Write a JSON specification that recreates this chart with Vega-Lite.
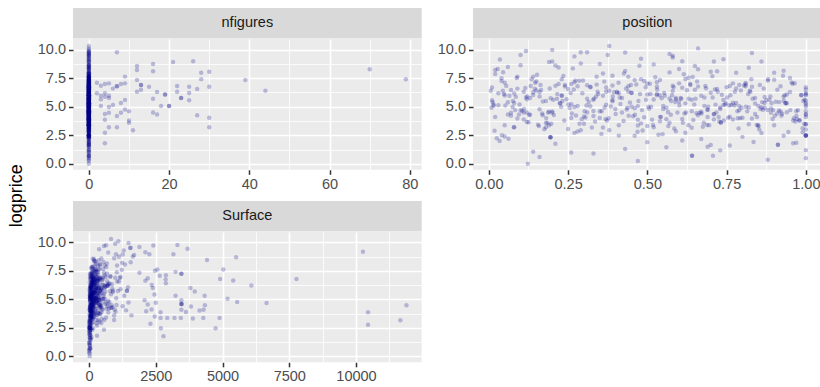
{
  "$schema": "https://vega.github.io/schema/vega-lite/v6.json",
  "background": "#FFFFFF",
  "padding": {"left": 8, "top": 8, "right": 0, "bottom": 0},
  "title": {"text": "logprice", "orient": "left", "anchor": "middle", "fontSize": 18, "fontWeight": "normal", "color": "#000000", "offset": 11},
  "data": {"values": [
    {"lp":9.76,"nf":7,"pos":0.31,"sf":640},{"lp":7.1,"nf":2,"pos":0.05,"sf":220},{"lp":6.84,"nf":3,"pos":0.58,"sf":410},{"lp":6.98,"nf":4,"pos":0.22,"sf":1180},
    {"lp":7.04,"nf":5,"pos":0.77,"sf":95},{"lp":6.17,"nf":2,"pos":0.41,"sf":330},{"lp":5.96,"nf":3,"pos":0.67,"sf":870},{"lp":5.64,"nf":3,"pos":0.12,"sf":150},
    {"lp":5.87,"nf":4,"pos":0.93,"sf":480},{"lp":5.96,"nf":5,"pos":0.36,"sf":260},{"lp":5.76,"nf":5,"pos":0.84,"sf":1420},{"lp":6.17,"nf":4,"pos":0.03,"sf":75},
    {"lp":5.06,"nf":3,"pos":0.55,"sf":590},{"lp":4.97,"nf":5,"pos":0.27,"sf":360},{"lp":4.36,"nf":4,"pos":0.71,"sf":180},{"lp":3.86,"nf":4,"pos":0.47,"sf":720},
    {"lp":4.47,"nf":5,"pos":0.89,"sf":130},{"lp":3.2,"nf":5,"pos":0.18,"sf":940},{"lp":2.72,"nf":4,"pos":0.62,"sf":55},{"lp":1.81,"nf":4,"pos":0.96,"sf":300},
    {"lp":6.58,"nf":6,"pos":0.09,"sf":1050},{"lp":6.78,"nf":7,"pos":0.44,"sf":240},{"lp":6.78,"nf":7,"pos":0.81,"sf":510},{"lp":6.98,"nf":8,"pos":0.26,"sf":170},
    {"lp":7.04,"nf":9,"pos":0.6,"sf":800},{"lp":7.63,"nf":9,"pos":0.14,"sf":390},{"lp":5.14,"nf":6,"pos":0.74,"sf":110},{"lp":4.18,"nf":7,"pos":0.33,"sf":660},
    {"lp":3.2,"nf":7,"pos":0.52,"sf":280},{"lp":5.32,"nf":8,"pos":0.87,"sf":1320},{"lp":4.47,"nf":8,"pos":0.07,"sf":430},{"lp":5.58,"nf":9,"pos":0.39,"sf":205},
    {"lp":4.76,"nf":9,"pos":0.69,"sf":760},{"lp":4.59,"nf":10,"pos":0.2,"sf":90},{"lp":3.8,"nf":10,"pos":0.98,"sf":350},{"lp":3.6,"nf":10,"pos":0.57,"sf":1590},
    {"lp":2.93,"nf":11,"pos":0.29,"sf":460},{"lp":8.56,"nf":12,"pos":0.65,"sf":190},{"lp":8.21,"nf":12,"pos":0.02,"sf":1240},{"lp":7.34,"nf":12,"pos":0.46,"sf":560},
    {"lp":6.9,"nf":13,"pos":0.79,"sf":140},{"lp":6.9,"nf":13,"pos":0.24,"sf":980},{"lp":6.49,"nf":13,"pos":0.91,"sf":320},{"lp":6.31,"nf":12,"pos":0.11,"sf":700},
    {"lp":6.75,"nf":15,"pos":0.53,"sf":245},{"lp":8.74,"nf":16,"pos":0.35,"sf":1120},{"lp":8.09,"nf":16,"pos":0.72,"sf":420},{"lp":6.28,"nf":17,"pos":0.16,"sf":85},
    {"lp":5.7,"nf":16,"pos":0.63,"sf":610},{"lp":5.06,"nf":18,"pos":0.85,"sf":270},{"lp":4.5,"nf":16,"pos":0.42,"sf":850},{"lp":4.32,"nf":17,"pos":0.06,"sf":160},
    {"lp":6.07,"nf":19,"pos":0.5,"sf":380},{"lp":6.07,"nf":19,"pos":0.94,"sf":1460},{"lp":5.06,"nf":20,"pos":0.28,"sf":230},{"lp":5.06,"nf":20,"pos":0.68,"sf":540},
    {"lp":8.9,"nf":21,"pos":0.19,"sf":1690},{"lp":6.8,"nf":22,"pos":0.76,"sf":310},{"lp":6.31,"nf":22,"pos":0.37,"sf":125},{"lp":5.76,"nf":23,"pos":0.59,"sf":900},
    {"lp":5.76,"nf":23,"pos":0.13,"sf":445},{"lp":6.75,"nf":25,"pos":0.83,"sf":210},{"lp":6.2,"nf":25,"pos":0.45,"sf":680},{"lp":5.56,"nf":25,"pos":0.01,"sf":340},
    {"lp":8.97,"nf":26,"pos":0.61,"sf":1010},{"lp":6.55,"nf":27,"pos":0.25,"sf":175},{"lp":7.97,"nf":28,"pos":0.9,"sf":590},{"lp":7.41,"nf":28,"pos":0.48,"sf":265},
    {"lp":4.26,"nf":27,"pos":0.17,"sf":820},{"lp":8.06,"nf":30,"pos":0.7,"sf":1350},{"lp":6.75,"nf":30,"pos":0.32,"sf":395},{"lp":4.03,"nf":30,"pos":0.8,"sf":115},
    {"lp":3.2,"nf":30,"pos":0.08,"sf":575},{"lp":7.34,"nf":39,"pos":0.54,"sf":1890},{"lp":6.4,"nf":44,"pos":0.38,"sf":730},{"lp":8.27,"nf":70,"pos":0.66,"sf":1560},
    {"lp":7.39,"nf":79,"pos":0.23,"sf":1040},
    {"lp":9.74,"nf":0,"pos":0.43,"sf":2410},{"lp":9.77,"nf":0,"pos":0.29,"sf":3310},{"lp":9.45,"nf":0,"pos":0.58,"sf":3690},{"lp":8.96,"nf":0,"pos":0.86,"sf":3160},
    {"lp":8.47,"nf":0,"pos":0.06,"sf":4420},{"lp":8.7,"nf":0,"pos":0.52,"sf":5510},{"lp":8.96,"nf":0,"pos":0.2,"sf":2260},{"lp":9.15,"nf":0,"pos":0.74,"sf":2110},
    {"lp":9.61,"nf":0,"pos":0.57,"sf":1890},{"lp":9.52,"nf":0,"pos":0.1,"sf":1540},{"lp":7.51,"nf":0,"pos":0.95,"sf":2470},{"lp":7.62,"nf":0,"pos":0.34,"sf":2560},
    {"lp":7.42,"nf":0,"pos":0.62,"sf":3240},{"lp":7.25,"nf":0,"pos":0.04,"sf":3460},{"lp":7.25,"nf":0,"pos":0.49,"sf":3460},{"lp":7.08,"nf":0,"pos":0.81,"sf":2650},
    {"lp":7.13,"nf":0,"pos":0.27,"sf":2880},{"lp":6.76,"nf":0,"pos":0.66,"sf":2870},{"lp":6.41,"nf":0,"pos":0.15,"sf":2880},{"lp":7.62,"nf":0,"pos":0.44,"sf":5030},
    {"lp":6.79,"nf":0,"pos":0.92,"sf":4910},{"lp":6.67,"nf":0,"pos":0.37,"sf":5400},{"lp":6.22,"nf":0,"pos":0.7,"sf":6080},{"lp":6.0,"nf":0,"pos":0.23,"sf":2390},
    {"lp":5.43,"nf":0,"pos":0.6,"sf":2450},{"lp":4.71,"nf":0,"pos":0.88,"sf":2500},{"lp":5.32,"nf":0,"pos":0.08,"sf":3240},{"lp":6.0,"nf":0,"pos":0.53,"sf":3800},
    {"lp":5.7,"nf":0,"pos":0.31,"sf":3960},{"lp":5.32,"nf":0,"pos":0.78,"sf":4330},{"lp":5.05,"nf":0,"pos":0.47,"sf":5190},{"lp":4.78,"nf":0,"pos":0.16,"sf":5550},
    {"lp":4.6,"nf":0,"pos":0.64,"sf":3460},{"lp":4.6,"nf":0,"pos":0.97,"sf":3460},{"lp":4.6,"nf":0,"pos":0.35,"sf":3470},{"lp":4.92,"nf":0,"pos":0.73,"sf":3460},
    {"lp":4.09,"nf":0,"pos":0.02,"sf":3460},{"lp":3.9,"nf":0,"pos":0.56,"sf":3630},{"lp":4.37,"nf":0,"pos":0.84,"sf":3820},{"lp":4.02,"nf":0,"pos":0.26,"sf":4140},
    {"lp":4.09,"nf":0,"pos":0.69,"sf":4290},{"lp":4.49,"nf":0,"pos":0.12,"sf":4340},{"lp":3.32,"nf":0,"pos":0.5,"sf":3890},{"lp":3.38,"nf":0,"pos":0.9,"sf":4280},
    {"lp":3.38,"nf":0,"pos":0.41,"sf":4890},{"lp":3.38,"nf":0,"pos":0.19,"sf":3200},{"lp":3.38,"nf":0,"pos":0.63,"sf":3440},{"lp":3.38,"nf":0,"pos":0.85,"sf":2930},
    {"lp":3.38,"nf":0,"pos":0.05,"sf":2680},{"lp":2.46,"nf":0,"pos":0.46,"sf":4740},{"lp":3.87,"nf":0,"pos":0.77,"sf":2680},{"lp":3.5,"nf":0,"pos":0.3,"sf":2460},
    {"lp":2.86,"nf":0,"pos":0.59,"sf":2300},{"lp":2.46,"nf":0,"pos":0.93,"sf":2690},{"lp":1.76,"nf":0,"pos":0.21,"sf":2790},{"lp":4.55,"nf":0,"pos":0.67,"sf":2200},
    {"lp":3.96,"nf":0,"pos":0.09,"sf":2140},{"lp":4.11,"nf":0,"pos":0.54,"sf":2340},{"lp":4.92,"nf":0,"pos":0.82,"sf":2080},{"lp":6.85,"nf":0,"pos":0.39,"sf":2200},
    {"lp":6.27,"nf":0,"pos":0.14,"sf":2350},{"lp":6.65,"nf":0,"pos":0.61,"sf":2110},{"lp":4.68,"nf":0,"pos":0.79,"sf":6650},{"lp":6.79,"nf":0,"pos":0.28,"sf":7770},
    {"lp":9.19,"nf":0,"pos":0.48,"sf":10260},{"lp":3.87,"nf":0,"pos":0.71,"sf":10450},{"lp":2.77,"nf":0,"pos":0.99,"sf":10450},{"lp":3.18,"nf":0,"pos":0.36,"sf":11660},
    {"lp":4.48,"nf":0,"pos":0.11,"sf":11890},
    {"lp":2.33,"nf":0,"pos":0.194,"sf":120},{"lp":2.33,"nf":0,"pos":0.194,"sf":45},{"lp":2.33,"nf":0,"pos":0.195,"sf":560},{"lp":3.62,"nf":0,"pos":0.732,"sf":80},
    {"lp":3.62,"nf":0,"pos":0.732,"sf":310},{"lp":0.7,"nf":0,"pos":0.641,"sf":40},{"lp":0.7,"nf":0,"pos":0.641,"sf":20},{"lp":2.48,"nf":0,"pos":1,"sf":60},
    {"lp":2.48,"nf":0,"pos":1,"sf":30},{"lp":2.48,"nf":0,"pos":1,"sf":150},{"lp":2.48,"nf":0,"pos":1,"sf":10},{"lp":3.47,"nf":0,"pos":1,"sf":200},
    {"lp":3.47,"nf":0,"pos":1,"sf":70},{"lp":1.67,"nf":0,"pos":0.912,"sf":35},{"lp":1.67,"nf":0,"pos":0.912,"sf":90},{"lp":0.7,"nf":0,"pos":0.707,"sf":50},
    {"lp":0.0,"nf":0,"pos":0.123,"sf":25},{"lp":9.88,"nf":0,"pos":0.117,"sf":980},
    {"lp":5.12,"nf":0,"pos":0.03,"sf":210},{"lp":6.45,"nf":0,"pos":0.07,"sf":85},{"lp":3.88,"nf":0,"pos":0.11,"sf":460},{"lp":7.21,"nf":0,"pos":0.15,"sf":130},
    {"lp":4.56,"nf":0,"pos":0.19,"sf":720},{"lp":5.93,"nf":0,"pos":0.23,"sf":40},{"lp":2.71,"nf":0,"pos":0.27,"sf":300},{"lp":6.88,"nf":0,"pos":0.31,"sf":1150},
    {"lp":4.02,"nf":0,"pos":0.35,"sf":95},{"lp":5.47,"nf":0,"pos":0.39,"sf":380},{"lp":8.13,"nf":0,"pos":0.43,"sf":260},{"lp":3.35,"nf":0,"pos":0.47,"sf":55},
    {"lp":6.12,"nf":0,"pos":0.51,"sf":610},{"lp":4.79,"nf":0,"pos":0.55,"sf":170},{"lp":5.66,"nf":0,"pos":0.59,"sf":890},{"lp":7.54,"nf":0,"pos":0.63,"sf":240},
    {"lp":2.18,"nf":0,"pos":0.67,"sf":30},{"lp":4.33,"nf":0,"pos":0.71,"sf":410},{"lp":6.71,"nf":0,"pos":0.75,"sf":150},{"lp":5.05,"nf":0,"pos":0.79,"sf":530},
    {"lp":3.97,"nf":0,"pos":0.83,"sf":70},{"lp":5.84,"nf":0,"pos":0.87,"sf":330},{"lp":4.41,"nf":0,"pos":0.91,"sf":1260},{"lp":6.29,"nf":0,"pos":0.95,"sf":190},
    {"lp":3.12,"nf":0,"pos":0.99,"sf":15},{"lp":7.85,"nf":0,"pos":0.02,"sf":650},{"lp":5.38,"nf":0,"pos":0.06,"sf":120},{"lp":4.68,"nf":0,"pos":0.1,"sf":280},
    {"lp":6.02,"nf":0,"pos":0.14,"sf":75},{"lp":3.59,"nf":0,"pos":0.18,"sf":940},{"lp":8.42,"nf":0,"pos":0.22,"sf":360},{"lp":5.21,"nf":0,"pos":0.26,"sf":45},
    {"lp":4.14,"nf":0,"pos":0.3,"sf":220},{"lp":6.93,"nf":0,"pos":0.34,"sf":510},{"lp":2.95,"nf":0,"pos":0.38,"sf":100},{"lp":5.76,"nf":0,"pos":0.42,"sf":1420},
    {"lp":4.87,"nf":0,"pos":0.46,"sf":160},{"lp":7.02,"nf":0,"pos":0.5,"sf":290},{"lp":3.73,"nf":0,"pos":0.54,"sf":60},{"lp":6.38,"nf":0,"pos":0.58,"sf":770},
    {"lp":5.29,"nf":0,"pos":0.62,"sf":135},{"lp":4.25,"nf":0,"pos":0.66,"sf":430},{"lp":1.64,"nf":0,"pos":0.7,"sf":25},{"lp":5.58,"nf":0,"pos":0.74,"sf":250},
    {"lp":6.59,"nf":0,"pos":0.78,"sf":680},{"lp":3.46,"nf":0,"pos":0.82,"sf":110},{"lp":4.95,"nf":0,"pos":0.86,"sf":370},{"lp":7.36,"nf":0,"pos":0.9,"sf":90},
    {"lp":4.52,"nf":0,"pos":0.94,"sf":1030},{"lp":3.81,"nf":0,"pos":0.98,"sf":200},{"lp":6.67,"nf":0,"pos":0.01,"sf":310},{"lp":5.98,"nf":0,"pos":0.05,"sf":560},
    {"lp":7.63,"nf":0,"pos":0.09,"sf":145},{"lp":4.29,"nf":0,"pos":0.13,"sf":35},{"lp":5.45,"nf":0,"pos":0.17,"sf":820},{"lp":6.84,"nf":0,"pos":0.21,"sf":175},
    {"lp":3.04,"nf":0,"pos":0.25,"sf":400},{"lp":8.77,"nf":0,"pos":0.29,"sf":1640},{"lp":4.62,"nf":0,"pos":0.33,"sf":65},{"lp":5.16,"nf":0,"pos":0.37,"sf":275},
    {"lp":2.47,"nf":0,"pos":0.41,"sf":20},{"lp":6.21,"nf":0,"pos":0.45,"sf":590},{"lp":4.08,"nf":0,"pos":0.49,"sf":125},{"lp":7.14,"nf":0,"pos":0.53,"sf":345},
    {"lp":5.71,"nf":0,"pos":0.57,"sf":80},{"lp":3.92,"nf":0,"pos":0.61,"sf":990},{"lp":6.49,"nf":0,"pos":0.65,"sf":215},{"lp":4.71,"nf":0,"pos":0.69,"sf":455},
    {"lp":1.18,"nf":0,"pos":0.73,"sf":10},{"lp":5.34,"nf":0,"pos":0.77,"sf":185},{"lp":6.96,"nf":0,"pos":0.81,"sf":630},{"lp":3.28,"nf":0,"pos":0.85,"sf":140},
    {"lp":4.84,"nf":0,"pos":0.89,"sf":265},{"lp":5.52,"nf":0,"pos":0.93,"sf":50},{"lp":4.19,"nf":0,"pos":0.97,"sf":740},{"lp":7.48,"nf":0,"pos":0.04,"sf":230},
    {"lp":6.15,"nf":0,"pos":0.08,"sf":390},{"lp":3.67,"nf":0,"pos":0.12,"sf":105},{"lp":5.89,"nf":0,"pos":0.16,"sf":1180},{"lp":4.46,"nf":0,"pos":0.2,"sf":60},
    {"lp":6.76,"nf":0,"pos":0.24,"sf":320},{"lp":2.83,"nf":0,"pos":0.28,"sf":85},{"lp":5.03,"nf":0,"pos":0.32,"sf":470},{"lp":7.91,"nf":0,"pos":0.36,"sf":210},
    {"lp":4.37,"nf":0,"pos":0.4,"sf":135},{"lp":6.33,"nf":0,"pos":0.44,"sf":860},{"lp":3.54,"nf":0,"pos":0.48,"sf":40},{"lp":5.62,"nf":0,"pos":0.52,"sf":295},
    {"lp":4.91,"nf":0,"pos":0.56,"sf":155},{"lp":8.29,"nf":0,"pos":0.6,"sf":540},{"lp":3.16,"nf":0,"pos":0.64,"sf":70},{"lp":5.81,"nf":0,"pos":0.68,"sf":405},
    {"lp":6.54,"nf":0,"pos":0.72,"sf":120},{"lp":4.12,"nf":0,"pos":0.76,"sf":960},{"lp":2.36,"nf":0,"pos":0.8,"sf":35},{"lp":5.27,"nf":0,"pos":0.84,"sf":245},
    {"lp":7.28,"nf":0,"pos":0.88,"sf":670},{"lp":4.58,"nf":0,"pos":0.92,"sf":95},{"lp":3.79,"nf":0,"pos":0.96,"sf":330},{"lp":6.08,"nf":0,"pos":1,"sf":180},
    {"lp":9.12,"nf":0,"pos":0.035,"sf":720},{"lp":4.98,"nf":0,"pos":0.075,"sf":55},{"lp":6.63,"nf":0,"pos":0.115,"sf":340},{"lp":3.43,"nf":0,"pos":0.155,"sf":165},
    {"lp":5.74,"nf":0,"pos":0.195,"sf":1080},{"lp":7.69,"nf":0,"pos":0.235,"sf":230},{"lp":4.22,"nf":0,"pos":0.275,"sf":75},{"lp":5.41,"nf":0,"pos":0.315,"sf":415},
    {"lp":2.62,"nf":0,"pos":0.355,"sf":30},{"lp":6.26,"nf":0,"pos":0.395,"sf":285},{"lp":4.75,"nf":0,"pos":0.435,"sf":620},{"lp":8.58,"nf":0,"pos":0.475,"sf":140},
    {"lp":3.86,"nf":0,"pos":0.515,"sf":95},{"lp":5.95,"nf":0,"pos":0.555,"sf":365},{"lp":4.49,"nf":0,"pos":0.595,"sf":50},{"lp":6.99,"nf":0,"pos":0.635,"sf":795},
    {"lp":3.25,"nf":0,"pos":0.675,"sf":110},{"lp":5.18,"nf":0,"pos":0.715,"sf":265},{"lp":4.04,"nf":0,"pos":0.755,"sf":1390},{"lp":6.41,"nf":0,"pos":0.795,"sf":205},
    {"lp":1.92,"nf":0,"pos":0.835,"sf":15},{"lp":5.56,"nf":0,"pos":0.875,"sf":470},{"lp":4.66,"nf":0,"pos":0.915,"sf":130},{"lp":7.11,"nf":0,"pos":0.955,"sf":585},
    {"lp":3.51,"nf":0,"pos":0.995,"sf":65},{"lp":5.08,"nf":0,"pos":0.015,"sf":240},{"lp":6.82,"nf":0,"pos":0.055,"sf":100},{"lp":4.31,"nf":0,"pos":0.095,"sf":880},
    {"lp":7.4,"nf":0,"pos":0.135,"sf":330},{"lp":3.02,"nf":0,"pos":0.175,"sf":45},{"lp":5.69,"nf":0,"pos":0.215,"sf":190},{"lp":4.88,"nf":0,"pos":0.255,"sf":715},
    {"lp":6.18,"nf":0,"pos":0.295,"sf":150},{"lp":3.71,"nf":0,"pos":0.335,"sf":395},{"lp":9.53,"nf":0,"pos":0.375,"sf":1560},{"lp":5.24,"nf":0,"pos":0.415,"sf":85},
    {"lp":4.16,"nf":0,"pos":0.455,"sf":260},{"lp":6.7,"nf":0,"pos":0.495,"sf":495},{"lp":2.55,"nf":0,"pos":0.535,"sf":25},{"lp":5.49,"nf":0,"pos":0.575,"sf":305},
    {"lp":7.83,"nf":0,"pos":0.615,"sf":125},{"lp":4.43,"nf":0,"pos":0.655,"sf":680},{"lp":3.38,"nf":0,"pos":0.695,"sf":70},{"lp":6.05,"nf":0,"pos":0.735,"sf":225},
    {"lp":5.11,"nf":0,"pos":0.775,"sf":1020},{"lp":4.59,"nf":0,"pos":0.815,"sf":160},{"lp":6.9,"nf":0,"pos":0.855,"sf":380},{"lp":3.93,"nf":0,"pos":0.895,"sf":55},
    {"lp":5.33,"nf":0,"pos":0.935,"sf":545},{"lp":4.7,"nf":0,"pos":0.975,"sf":115},{"lp":8.01,"nf":0,"pos":0.045,"sf":410},{"lp":5.87,"nf":0,"pos":0.085,"sf":70},
    {"lp":3.63,"nf":0,"pos":0.125,"sf":255},{"lp":6.47,"nf":0,"pos":0.165,"sf":130},{"lp":4.27,"nf":0,"pos":0.205,"sf":835},{"lp":5.65,"nf":0,"pos":0.245,"sf":200},
    {"lp":7.26,"nf":0,"pos":0.285,"sf":45},{"lp":3.17,"nf":0,"pos":0.325,"sf":345},{"lp":4.93,"nf":0,"pos":0.365,"sf":160},{"lp":6.23,"nf":0,"pos":0.405,"sf":720},
    {"lp":5.36,"nf":0,"pos":0.445,"sf":95},{"lp":2.91,"nf":0,"pos":0.485,"sf":280},{"lp":7.58,"nf":0,"pos":0.525,"sf":1230},{"lp":4.54,"nf":0,"pos":0.565,"sf":135},
    {"lp":5.77,"nf":0,"pos":0.605,"sf":420},{"lp":3.84,"nf":0,"pos":0.645,"sf":60},{"lp":6.61,"nf":0,"pos":0.685,"sf":290},{"lp":4.1,"nf":0,"pos":0.725,"sf":505},
    {"lp":5.14,"nf":0,"pos":0.765,"sf":35},{"lp":6.86,"nf":0,"pos":0.805,"sf":180},{"lp":3.41,"nf":0,"pos":0.845,"sf":640},{"lp":5.6,"nf":0,"pos":0.885,"sf":110},
    {"lp":4.39,"nf":0,"pos":0.925,"sf":365},{"lp":7.05,"nf":0,"pos":0.965,"sf":75},{"lp":2.24,"nf":0,"pos":0.025,"sf":20},{"lp":5.96,"nf":0,"pos":0.065,"sf":470},
    {"lp":4.63,"nf":0,"pos":0.105,"sf":190},{"lp":6.57,"nf":0,"pos":0.145,"sf":1120},{"lp":3.57,"nf":0,"pos":0.185,"sf":85},{"lp":5.3,"nf":0,"pos":0.225,"sf":315},
    {"lp":8.35,"nf":0,"pos":0.265,"sf":240},{"lp":4.06,"nf":0,"pos":0.305,"sf":55},{"lp":6.11,"nf":0,"pos":0.345,"sf":600},{"lp":5.02,"nf":0,"pos":0.385,"sf":140},
    {"lp":3.75,"nf":0,"pos":0.425,"sf":420},{"lp":6.94,"nf":0,"pos":0.465,"sf":95},{"lp":4.81,"nf":0,"pos":0.505,"sf":275},{"lp":5.73,"nf":0,"pos":0.545,"sf":790},
    {"lp":3.09,"nf":0,"pos":0.585,"sf":40},{"lp":6.44,"nf":0,"pos":0.625,"sf":215},{"lp":4.47,"nf":0,"pos":0.665,"sf":125},{"lp":7.67,"nf":0,"pos":0.705,"sf":530},
    {"lp":5.2,"nf":0,"pos":0.745,"sf":65},{"lp":3.99,"nf":0,"pos":0.785,"sf":350},{"lp":6.3,"nf":0,"pos":0.825,"sf":180},{"lp":4.73,"nf":0,"pos":0.865,"sf":1480},
    {"lp":5.44,"nf":0,"pos":0.905,"sf":100},{"lp":2.78,"nf":0,"pos":0.945,"sf":30},{"lp":6.03,"nf":0,"pos":0.985,"sf":260},{"lp":4.35,"nf":0,"pos":1,"sf":450},
    {"lp":5.55,"nf":0,"pos":1,"sf":120},{"lp":4.6,"nf":0,"pos":1,"sf":60},{"lp":5.0,"nf":0,"pos":1,"sf":35},{"lp":6.0,"nf":0,"pos":1,"sf":280},
    {"lp":4.3,"nf":0,"pos":1,"sf":90},{"lp":3.0,"nf":0,"pos":1,"sf":150},{"lp":1.2,"nf":0,"pos":1,"sf":15},{"lp":6.5,"nf":0,"pos":1,"sf":400},
    {"lp":5.3,"nf":0,"pos":1,"sf":75},{"lp":0.5,"nf":0,"pos":1,"sf":10},{"lp":9.3,"nf":0,"pos":0.58,"sf":1300},{"lp":10.3,"nf":0,"pos":0.38,"sf":825},
    {"lp":10.1,"nf":0,"pos":0.66,"sf":1100},{"lp":9.7,"nf":0,"pos":0.83,"sf":560},{"lp":9.95,"nf":0,"pos":0.2,"sf":1480},{"lp":0.25,"nf":0,"pos":0.47,"sf":20},
    {"lp":0.9,"nf":0,"pos":0.33,"sf":40},{"lp":1.45,"nf":0,"pos":0.56,"sf":65},{"lp":0.35,"nf":0,"pos":0.88,"sf":15},{"lp":1.05,"nf":0,"pos":0.14,"sf":30},
    {"lp":1.6,"nf":0,"pos":0.76,"sf":55},{"lp":8.95,"nf":0,"pos":0.71,"sf":1260},{"lp":8.62,"nf":0,"pos":0.1,"sf":940},{"lp":9.4,"nf":0,"pos":0.27,"sf":380},
    {"lp":8.15,"nf":0,"pos":0.93,"sf":670},{"lp":1.3,"nf":0,"pos":0.43,"sf":25},{"lp":2.05,"nf":0,"pos":0.61,"sf":45},{"lp":2.4,"nf":0,"pos":0.05,"sf":80},
    {"lp":1.85,"nf":0,"pos":0.97,"sf":35},{"lp":7.97,"nf":0,"pos":0.78,"sf":1050},
    {"lp":5.4,"nf":0,"pos":0.012,"sf":140},{"lp":6.1,"nf":0,"pos":0.048,"sf":60},{"lp":4.7,"nf":0,"pos":0.083,"sf":310},{"lp":5.9,"nf":0,"pos":0.121,"sf":25},
    {"lp":3.3,"nf":0,"pos":0.158,"sf":480},{"lp":6.6,"nf":0,"pos":0.192,"sf":105},{"lp":5.0,"nf":0,"pos":0.228,"sf":215},{"lp":4.4,"nf":0,"pos":0.262,"sf":35},
    {"lp":7.3,"nf":0,"pos":0.297,"sf":170},{"lp":5.7,"nf":0,"pos":0.332,"sf":390},{"lp":3.9,"nf":0,"pos":0.368,"sf":80},{"lp":6.3,"nf":0,"pos":0.404,"sf":250},
    {"lp":4.9,"nf":0,"pos":0.437,"sf":45},{"lp":5.5,"nf":0,"pos":0.472,"sf":560},{"lp":7.0,"nf":0,"pos":0.508,"sf":130},{"lp":4.1,"nf":0,"pos":0.543,"sf":20},
    {"lp":6.0,"nf":0,"pos":0.578,"sf":340},{"lp":3.6,"nf":0,"pos":0.612,"sf":95},{"lp":5.2,"nf":0,"pos":0.648,"sf":185},{"lp":6.8,"nf":0,"pos":0.683,"sf":65},
    {"lp":4.5,"nf":0,"pos":0.718,"sf":430},{"lp":5.8,"nf":0,"pos":0.752,"sf":110},{"lp":3.1,"nf":0,"pos":0.788,"sf":30},{"lp":6.4,"nf":0,"pos":0.823,"sf":275},
    {"lp":4.8,"nf":0,"pos":0.857,"sf":150},{"lp":5.3,"nf":0,"pos":0.892,"sf":75},{"lp":7.7,"nf":0,"pos":0.928,"sf":360},{"lp":4.0,"nf":0,"pos":0.962,"sf":55},
    {"lp":5.6,"nf":0,"pos":0.996,"sf":200},{"lp":6.2,"nf":0,"pos":1,"sf":40},{"lp":2.9,"nf":0,"pos":0.018,"sf":15},{"lp":5.1,"nf":0,"pos":0.052,"sf":285},
    {"lp":7.5,"nf":0,"pos":0.088,"sf":190},{"lp":4.3,"nf":0,"pos":0.127,"sf":70},{"lp":6.9,"nf":0,"pos":0.163,"sf":440},{"lp":3.5,"nf":0,"pos":0.197,"sf":50},
    {"lp":5.5,"nf":0,"pos":0.232,"sf":125},{"lp":6.5,"nf":0,"pos":0.268,"sf":30},{"lp":4.6,"nf":0,"pos":0.302,"sf":600},{"lp":5.9,"nf":0,"pos":0.338,"sf":90},
    {"lp":3.8,"nf":0,"pos":0.373,"sf":160},{"lp":7.1,"nf":0,"pos":0.409,"sf":235},{"lp":4.2,"nf":0,"pos":0.441,"sf":40},{"lp":6.1,"nf":0,"pos":0.477,"sf":115},
    {"lp":5.0,"nf":0,"pos":0.512,"sf":380},{"lp":2.6,"nf":0,"pos":0.548,"sf":20},{"lp":6.7,"nf":0,"pos":0.583,"sf":175},{"lp":4.4,"nf":0,"pos":0.617,"sf":265},
    {"lp":5.7,"nf":0,"pos":0.652,"sf":60},{"lp":3.4,"nf":0,"pos":0.688,"sf":145},{"lp":6.3,"nf":0,"pos":0.722,"sf":505},{"lp":5.1,"nf":0,"pos":0.758,"sf":85},
    {"lp":4.0,"nf":0,"pos":0.793,"sf":225},{"lp":7.4,"nf":0,"pos":0.828,"sf":130},{"lp":5.4,"nf":0,"pos":0.862,"sf":45},{"lp":4.7,"nf":0,"pos":0.897,"sf":320},
    {"lp":6.0,"nf":0,"pos":0.933,"sf":100},{"lp":3.7,"nf":0,"pos":0.967,"sf":25},{"lp":5.2,"nf":0,"pos":1,"sf":170},{"lp":6.7,"nf":0,"pos":1,"sf":55},
    {"lp":4.9,"nf":0,"pos":0.008,"sf":420},{"lp":6.4,"nf":0,"pos":0.044,"sf":120},{"lp":3.2,"nf":0,"pos":0.079,"sf":35},{"lp":5.8,"nf":0,"pos":0.117,"sf":230},
    {"lp":7.8,"nf":0,"pos":0.152,"sf":80},{"lp":4.5,"nf":0,"pos":0.187,"sf":165},{"lp":5.3,"nf":0,"pos":0.224,"sf":35},{"lp":6.2,"nf":0,"pos":0.258,"sf":690},
    {"lp":3.9,"nf":0,"pos":0.293,"sf":60},{"lp":5.6,"nf":0,"pos":0.329,"sf":140},{"lp":7.2,"nf":0,"pos":0.364,"sf":45},{"lp":4.8,"nf":0,"pos":0.399,"sf":305},
    {"lp":6.6,"nf":0,"pos":0.433,"sf":150},{"lp":2.8,"nf":0,"pos":0.469,"sf":25},{"lp":5.0,"nf":0,"pos":0.503,"sf":90},{"lp":6.0,"nf":0,"pos":0.539,"sf":455},
    {"lp":4.3,"nf":0,"pos":0.574,"sf":115},{"lp":5.7,"nf":0,"pos":0.607,"sf":30},{"lp":7.6,"nf":0,"pos":0.643,"sf":260},{"lp":3.6,"nf":0,"pos":0.678,"sf":70},
    {"lp":6.5,"nf":0,"pos":0.713,"sf":185},{"lp":5.3,"nf":0,"pos":0.748,"sf":40},{"lp":4.6,"nf":0,"pos":0.784,"sf":370},{"lp":6.1,"nf":0,"pos":0.818,"sf":95},
    {"lp":3.0,"nf":0,"pos":0.853,"sf":20},{"lp":5.9,"nf":0,"pos":0.888,"sf":245},{"lp":4.2,"nf":0,"pos":0.923,"sf":135},{"lp":7.0,"nf":0,"pos":0.958,"sf":50},
    {"lp":5.5,"nf":0,"pos":0.992,"sf":300},{"lp":4.1,"nf":0,"pos":1,"sf":65},{"lp":8.3,"nf":0,"pos":0.028,"sf":210},{"lp":2.2,"nf":0,"pos":0.062,"sf":10},
    {"lp":5.2,"nf":0,"pos":0.097,"sf":75},{"lp":6.8,"nf":0,"pos":0.132,"sf":350},{"lp":4.4,"nf":0,"pos":0.168,"sf":120},{"lp":5.6,"nf":0,"pos":0.203,"sf":45},
    {"lp":3.8,"nf":0,"pos":0.238,"sf":210},{"lp":7.3,"nf":0,"pos":0.273,"sf":95},{"lp":5.1,"nf":0,"pos":0.308,"sf":30},{"lp":6.3,"nf":0,"pos":0.343,"sf":540},
    {"lp":4.0,"nf":0,"pos":0.378,"sf":60},{"lp":5.8,"nf":0,"pos":0.413,"sf":140},{"lp":6.9,"nf":0,"pos":0.448,"sf":35},{"lp":4.7,"nf":0,"pos":0.483,"sf":225},
    {"lp":3.4,"nf":0,"pos":0.518,"sf":85},{"lp":6.2,"nf":0,"pos":0.553,"sf":170},{"lp":5.4,"nf":0,"pos":0.588,"sf":25},{"lp":4.5,"nf":0,"pos":0.622,"sf":410},
    {"lp":7.2,"nf":0,"pos":0.657,"sf":110},{"lp":5.0,"nf":0,"pos":0.692,"sf":55},{"lp":3.7,"nf":0,"pos":0.727,"sf":195},{"lp":6.0,"nf":0,"pos":0.762,"sf":75},
    {"lp":4.9,"nf":0,"pos":0.797,"sf":290},{"lp":5.7,"nf":0,"pos":0.832,"sf":35},{"lp":6.6,"nf":0,"pos":0.867,"sf":125},{"lp":4.2,"nf":0,"pos":0.902,"sf":500},
    {"lp":5.3,"nf":0,"pos":0.937,"sf":60},{"lp":3.9,"nf":0,"pos":0.972,"sf":150},{"lp":6.4,"nf":0,"pos":0.006,"sf":90},{"lp":2.5,"nf":0,"pos":0.041,"sf":20},
    {"lp":5.5,"nf":0,"pos":0.076,"sf":165},{"lp":4.8,"nf":0,"pos":0.111,"sf":40},{"lp":7.1,"nf":0,"pos":0.146,"sf":270},{"lp":4.0,"nf":0,"pos":0.181,"sf":110},
    {"lp":6.1,"nf":0,"pos":0.216,"sf":60},{"lp":5.2,"nf":0,"pos":0.251,"sf":345},{"lp":3.5,"nf":0,"pos":0.286,"sf":30},{"lp":6.7,"nf":0,"pos":0.321,"sf":190},
    {"lp":4.6,"nf":0,"pos":0.356,"sf":75},{"lp":5.9,"nf":0,"pos":0.391,"sf":260},{"lp":7.9,"nf":0,"pos":0.426,"sf":130},{"lp":4.3,"nf":0,"pos":0.461,"sf":50},
    {"lp":5.6,"nf":0,"pos":0.496,"sf":215},{"lp":6.5,"nf":0,"pos":0.531,"sf":95},{"lp":3.3,"nf":0,"pos":0.566,"sf":30},{"lp":5.1,"nf":0,"pos":0.601,"sf":380},
    {"lp":6.9,"nf":0,"pos":0.636,"sf":140},{"lp":4.4,"nf":0,"pos":0.671,"sf":45},{"lp":5.8,"nf":0,"pos":0.706,"sf":235},{"lp":3.8,"nf":0,"pos":0.741,"sf":105},
    {"lp":6.3,"nf":0,"pos":0.776,"sf":55},{"lp":5.0,"nf":0,"pos":0.811,"sf":160},{"lp":4.1,"nf":0,"pos":0.846,"sf":25},{"lp":7.4,"nf":0,"pos":0.881,"sf":310},
    {"lp":5.4,"nf":0,"pos":0.916,"sf":85},{"lp":4.7,"nf":0,"pos":0.951,"sf":180},{"lp":6.0,"nf":0,"pos":0.986,"sf":40},{"lp":2.0,"nf":0,"pos":0.034,"sf":15},
    {"lp":8.6,"nf":0,"pos":0.21,"sf":460},{"lp":8.0,"nf":0,"pos":0.57,"sf":330},{"lp":8.4,"nf":0,"pos":0.82,"sf":190},{"lp":7.7,"nf":0,"pos":0.39,"sf":95},
    {"lp":1.0,"nf":0,"pos":0.26,"sf":20},{"lp":1.5,"nf":0,"pos":0.69,"sf":35},{"lp":0.6,"nf":0,"pos":0.16,"sf":15},{"lp":1.9,"nf":0,"pos":0.5,"sf":50},
    {"lp":2.7,"nf":0,"pos":0.86,"sf":25},{"lp":5.2,"nf":0,"pos":0.015,"sf":55},{"lp":5.0,"nf":0,"pos":0.45,"sf":70},{"lp":4.8,"nf":0,"pos":0.73,"sf":40},
    {"lp":5.6,"nf":0,"pos":0.64,"sf":105},{"lp":4.5,"nf":0,"pos":0.31,"sf":85},{"lp":5.3,"nf":0,"pos":0.94,"sf":130},{"lp":4.2,"nf":0,"pos":0.07,"sf":45},
    {"lp":6.1,"nf":0,"pos":0.53,"sf":75},{"lp":5.5,"nf":0,"pos":0.18,"sf":60},{"lp":4.9,"nf":0,"pos":0.87,"sf":95}
  ]},
  "columns": 2,
  "spacing": {"row": 10, "column": 15},
  "concat": [
    {
      "spacing": 0,
      "vconcat": [
        {
          "width": 348.7, "height": 30.6,
          "view": {"fill": "#D9D9D9", "stroke": null},
          "data": {"values": [{"panel": "nfigures"}]},
          "mark": {"type": "text", "fontSize": 14.5, "color": "#1A1A1A"},
          "encoding": {"text": {"field": "panel", "type": "nominal"}}
        },
        {
          "width": 348.7, "height": 130.8,
          "view": {"fill": "#EBEBEB", "stroke": null},
          "mark": {"type": "circle", "size": 20, "color": "#00008B", "opacity": 0.24},
          "encoding": {
            "x": {"field": "nf", "type": "quantitative", "title": null,
              "scale": {"domain": [-3.95, 82.95], "nice": false, "zero": false},
              "axis": {"values": [0, 10, 20, 30, 40, 50, 60, 70, 80], "format": "d",
                "labelExpr": "datum.value % 20 === 0 ? datum.label : ''",
                "gridWidth": {"condition": {"test": "datum.value % 20 === 0", "value": 1.6}, "value": 0.8},
                "tickColor": {"condition": {"test": "datum.value % 20 === 0", "value": "#333333"}, "value": "transparent"}}},
            "y": {"field": "lp", "type": "quantitative", "title": null,
              "scale": {"domain": [-0.52, 10.92], "nice": false, "zero": false},
              "axis": {"values": [0, 1.25, 2.5, 3.75, 5, 6.25, 7.5, 8.75, 10], "format": ".1f",
                "labelExpr": "datum.value % 2.5 === 0 ? datum.label : ''",
                "gridWidth": {"condition": {"test": "datum.value % 2.5 === 0", "value": 1.6}, "value": 0.8},
                "tickColor": {"condition": {"test": "datum.value % 2.5 === 0", "value": "#333333"}, "value": "transparent"}}}
          }
        }
      ]
    },
    {
      "spacing": 0,
      "vconcat": [
        {
          "width": 348.7, "height": 30.6,
          "view": {"fill": "#D9D9D9", "stroke": null},
          "data": {"values": [{"panel": "position"}]},
          "mark": {"type": "text", "fontSize": 14.5, "color": "#1A1A1A"},
          "encoding": {"text": {"field": "panel", "type": "nominal"}}
        },
        {
          "width": 348.7, "height": 130.8,
          "view": {"fill": "#EBEBEB", "stroke": null},
          "mark": {"type": "circle", "size": 20, "color": "#00008B", "opacity": 0.24},
          "encoding": {
            "x": {"field": "pos", "type": "quantitative", "title": null,
              "scale": {"domain": [-0.05, 1.05], "nice": false, "zero": false},
              "axis": {"values": [0, 0.125, 0.25, 0.375, 0.5, 0.625, 0.75, 0.875, 1], "format": ".2f",
                "labelExpr": "(datum.value * 4) % 1 === 0 ? datum.label : ''",
                "gridWidth": {"condition": {"test": "(datum.value * 4) % 1 === 0", "value": 1.6}, "value": 0.8},
                "tickColor": {"condition": {"test": "(datum.value * 4) % 1 === 0", "value": "#333333"}, "value": "transparent"}}},
            "y": {"field": "lp", "type": "quantitative", "title": null,
              "scale": {"domain": [-0.52, 10.92], "nice": false, "zero": false},
              "axis": {"values": [0, 1.25, 2.5, 3.75, 5, 6.25, 7.5, 8.75, 10], "format": ".1f",
                "labelExpr": "datum.value % 2.5 === 0 ? datum.label : ''",
                "gridWidth": {"condition": {"test": "datum.value % 2.5 === 0", "value": 1.6}, "value": 0.8},
                "tickColor": {"condition": {"test": "datum.value % 2.5 === 0", "value": "#333333"}, "value": "transparent"}}}
          }
        }
      ]
    },
    {
      "spacing": 0,
      "vconcat": [
        {
          "width": 348.7, "height": 30.6,
          "view": {"fill": "#D9D9D9", "stroke": null},
          "data": {"values": [{"panel": "Surface"}]},
          "mark": {"type": "text", "fontSize": 14.5, "color": "#1A1A1A"},
          "encoding": {"text": {"field": "panel", "type": "nominal"}}
        },
        {
          "width": 348.7, "height": 130.3,
          "view": {"fill": "#EBEBEB", "stroke": null},
          "mark": {"type": "circle", "size": 20, "color": "#00008B", "opacity": 0.24},
          "encoding": {
            "x": {"field": "sf", "type": "quantitative", "title": null,
              "scale": {"domain": [-600, 12460], "nice": false, "zero": false},
              "axis": {"values": [0, 1250, 2500, 3750, 5000, 6250, 7500, 8750, 10000, 11250], "format": "d",
                "labelExpr": "datum.value % 2500 === 0 ? datum.label : ''",
                "gridWidth": {"condition": {"test": "datum.value % 2500 === 0", "value": 1.6}, "value": 0.8},
                "tickColor": {"condition": {"test": "datum.value % 2500 === 0", "value": "#333333"}, "value": "transparent"}}},
            "y": {"field": "lp", "type": "quantitative", "title": null,
              "scale": {"domain": [-0.52, 10.92], "nice": false, "zero": false},
              "axis": {"values": [0, 1.25, 2.5, 3.75, 5, 6.25, 7.5, 8.75, 10], "format": ".1f",
                "labelExpr": "datum.value % 2.5 === 0 ? datum.label : ''",
                "gridWidth": {"condition": {"test": "datum.value % 2.5 === 0", "value": 1.6}, "value": 0.8},
                "tickColor": {"condition": {"test": "datum.value % 2.5 === 0", "value": "#333333"}, "value": "transparent"}}}
          }
        }
      ]
    }
  ],
  "config": {
    "font": "Liberation Sans",
    "view": {"stroke": null},
    "axis": {
      "domain": false, "grid": true, "gridColor": "#FFFFFF",
      "labelColor": "#4D4D4D", "labelFontSize": 14.5, "labelPadding": 3,
      "tickSize": 4.5, "tickWidth": 1.5,
      "labelFlush": false, "labelOverlap": false
    }
  }
}
